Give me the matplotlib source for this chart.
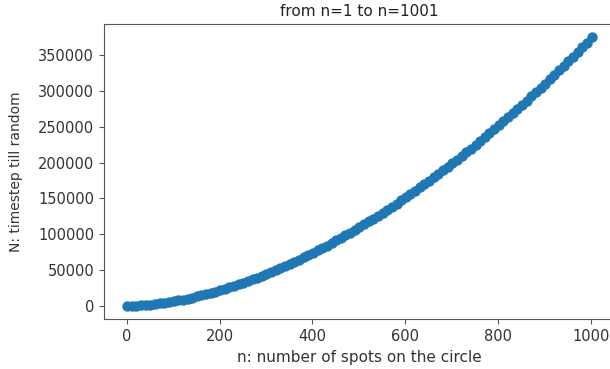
import matplotlib
matplotlib.use("Agg")
import matplotlib.pyplot as plt
import numpy as np

# n: number of spots, sampled every 10 from n=1 to n=1001
n_spots = np.arange(1, 1002, 10)

# N: timestep till random
timesteps = [
    0, 110, 370, 770, 1270, 1890, 2600, 3420, 4330, 5330,
    6410, 7590, 8850, 10190, 11620, 13120, 14700, 16360, 18110, 19930,
    21820, 23770, 25810, 27920, 30100, 32330, 34650, 37050, 39510, 42030,
    44620, 47280, 50000, 52810, 55660, 58590, 61580, 64630, 67760, 70940,
    74170, 77490, 80860, 84290, 87780, 91340, 94940, 98610, 102350, 106140,
    110000, 113920, 117900, 121920, 126000, 130170, 134360, 138640, 142960, 147330,
    151770, 156280, 160840, 165430, 170100, 174830, 179600, 184420, 189330, 194260,
    199240, 204290, 209410, 214580, 219820, 225100, 230390, 235760, 241200, 246690,
    252260, 257850, 263490, 269190, 274950, 280770, 286590, 292520, 298510, 304480,
    310580, 316710, 322900, 329060, 335330, 341720, 348080, 354470, 360980, 367520,
    375000,
]

fig = plt.figure(figsize=(6.1, 3.69), dpi=100)
ax = fig.add_axes([0.1703, 0.1347, 0.8377, 0.8003])
ax.scatter(n_spots, timesteps, s=42, color="#1f77b4")
ax.set_title("from n=1 to n=1001", fontsize=11, color="#222222")
ax.set_xlabel("n: number of spots on the circle", fontsize=11, color="#333333")
ax.set_ylabel("N: timestep till random", fontsize=10, color="#333333")
ax.yaxis.set_label_coords(-0.158, 0.5)
ax.tick_params(labelsize=10.5, labelcolor="#333333", color="#555555")
for spine in ax.spines.values():
    spine.set_color("#555555")

fig.savefig("out.png", dpi=100)
